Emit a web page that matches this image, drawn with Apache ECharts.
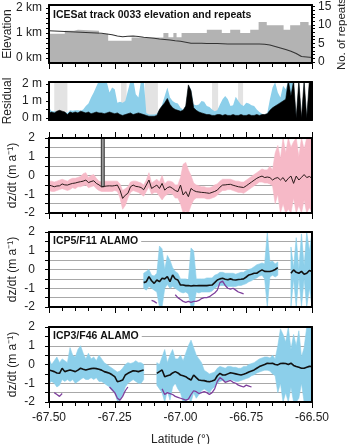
<!DOCTYPE html>
<html>
<head>
<meta charset="utf-8">
<script src="https://cdn.jsdelivr.net/npm/echarts@6/dist/echarts.min.js"></script>
<style>html,body{margin:0;background:#fff}#chart{width:350px;height:444px}</style>
</head>
<body>
<div id="chart"></div>
<script>
// latitude sampling of the profiles
const lat = [-67.50,-67.49,-67.48,-67.47,-67.46,-67.45,-67.44,-67.43,-67.42,-67.41,
  -67.40,-67.39,-67.38,-67.37,-67.36,-67.35,-67.34,-67.33,-67.32,-67.31,
  -67.30,-67.29,-67.28,-67.27,-67.26,-67.25,-67.24,-67.23,-67.22,-67.21,
  -67.20,-67.19,-67.18,-67.17,-67.16,-67.15,-67.14,-67.13,-67.12,-67.11,
  -67.10,-67.09,-67.08,-67.07,-67.06,-67.05,-67.04,-67.03,-67.02,-67.01,
  -67.00,-66.99,-66.98,-66.97,-66.96,-66.95,-66.94,-66.93,-66.92,-66.91,
  -66.90,-66.89,-66.88,-66.87,-66.86,-66.85,-66.84,-66.83,-66.82,-66.81,
  -66.80,-66.79,-66.78,-66.77,-66.76,-66.75,-66.74,-66.73,-66.72,-66.71,
  -66.70,-66.69,-66.68,-66.67,-66.66,-66.65,-66.64,-66.63,-66.62,-66.61,
  -66.60,-66.59,-66.58,-66.57,-66.56,-66.55,-66.54,-66.53,-66.52,-66.51,-66.50];

// panel 1: elevation (km) and number of repeats
const elevLat = [-67.50,-67.48,-67.46,-67.44,-67.42,-67.40,-67.38,-67.36,-67.34,-67.32,
  -67.30,-67.28,-67.26,-67.24,-67.22,-67.20,-67.18,-67.16,-67.14,-67.12,
  -67.10,-67.08,-67.06,-67.04,-67.02,-67.00,-66.98,-66.96,-66.94,-66.92,
  -66.90,-66.88,-66.86,-66.84,-66.82,-66.80,-66.78,-66.76,-66.74,-66.72,
  -66.70,-66.68,-66.66,-66.64,-66.62,-66.60,-66.58,-66.56,-66.54,-66.52,-66.50];
const elevKm = [1.09,1.08,1.07,1.06,1.05,1.04,1.03,1.02,1.01,1.00,
  0.99,0.96,0.93,0.88,0.85,0.87,0.88,0.86,0.83,0.81,
  0.79,0.76,0.74,0.72,0.69,0.67,0.63,0.59,0.59,0.59,
  0.58,0.58,0.58,0.57,0.56,0.56,0.56,0.56,0.56,0.56,
  0.56,0.55,0.52,0.46,0.40,0.34,0.27,0.18,0.06,0.04,0.02];
const repLat = [-67.50,-67.44,-67.405,-67.39,-67.31,-67.275,-67.186,-67.065,-67.046,-67.027,-67.015,-66.996,
  -66.90,-66.843,-66.811,-66.773,-66.735,-66.703,-66.672,-66.608,-66.583,-66.545,-66.513,-66.50];
const repCount = [7.6,8.4,8.7,8.4,7.6,5.7,6.6,7.8,6.7,7.8,6.7,7.8,
  8.7,7.8,8.7,7.8,8.7,10.8,9.9,8.7,9.9,10.8,9.9,9.9];

// panel 2: residuals (m)
const residBlue = [0.6,0.4,0.4,0.35,0.35,0.35,0.35,0.3,0.45,0.42,
  0.45,0.45,0.42,0.5,0.7,0.85,1.2,1.5,1.85,2.2,
  2.3,2.3,2.1,1.5,1.8,1.7,0.9,0.95,0.9,1.0,
  1.6,2.2,2.3,1.4,1.2,2.2,2.3,0.3,0.2,0.2,
  0.2,0.25,0.5,0.8,1.3,1.8,1.2,1.0,0.9,0.85,
  0.6,0.5,0.75,1.95,1.7,0.8,0.75,0.8,1.0,0.95,
  0.7,0.65,0.5,0.4,0.45,0.8,1.1,1.3,1.1,0.7,
  0.75,1.25,1.0,0.8,0.7,0.9,0.85,0.75,0.7,0.5,
  0.35,0.25,0.2,0.3,1.1,1.8,2.1,1.5,1.2,1.9,
  1.7,2.2,2.2,2.2,0,2.2,0,2.2,0,2.2,2.2];
const residBlack = [0.3,0.35,0.3,0.4,0.45,0.4,0.35,0.2,0.35,0.3,
  0.35,0.3,0.4,0.35,0.3,0.35,0.25,0.3,0.35,0.3,
  0.3,0.25,0.3,0.35,0.3,0.25,0.3,0.2,0.15,0.2,
  0.25,0.3,0.2,0.25,0.3,0.25,0.2,0.15,0.1,0.1,
  0.1,0.15,0.5,0.7,0.9,1.15,0.8,0.6,0.5,0.45,
  0.4,0.45,0.7,1.95,1.6,0.6,0.45,0.35,0.3,0.25,
  0.2,0.2,0.15,0.15,0.2,0.2,0.15,0.2,0.15,0.15,
  0.2,0.15,0.15,0.2,0.15,0.15,0.2,0.15,0.15,0.2,
  0.15,0.2,0.2,0.25,0.45,0.6,0.7,0.8,0.9,1.0,
  1.1,2.2,1.3,2.2,0,2.2,0,2.2,0,2.2,2.2];
const greyStart = [-67.48,-67.226,-67.135,-66.88,-66.781];
const greyEnd = [-67.43,-67.205,-67.086,-66.857,-66.762];

// panel 3: dz/dt (m/a)
const dzLine = [-0.51,-0.55,-0.6,-0.56,-0.55,-0.45,-0.5,-0.51,-0.46,-0.42,
  -0.4,-0.36,-0.33,-0.3,-0.24,-0.38,-0.32,-0.28,-0.42,-0.5,
  -0.6,-0.58,-0.56,-0.55,-0.56,-0.54,-0.51,-0.78,-1.22,-1.05,
  -0.95,-0.6,-0.51,-0.58,-0.6,-0.64,-0.76,-0.51,-0.24,-0.69,
  -0.6,-0.51,-0.69,-0.42,-0.78,-0.65,-0.6,-0.69,-0.8,-0.86,
  -0.51,-1.04,-0.86,-1.13,-0.69,-0.8,-0.86,-0.88,-0.9,-0.91,
  -0.93,-0.95,-0.9,-0.85,-0.78,-0.62,-0.51,-0.5,-0.48,-0.47,
  -0.52,-0.56,-0.6,-0.62,-0.64,-0.55,-0.45,-0.35,-0.25,-0.15,
  -0.08,-0.03,-0.11,-0.08,-0.11,-0.24,-0.15,-0.11,-0.24,-0.11,
  -0.33,-0.15,-0.03,-0.42,-0.03,-0.24,-0.1,0.05,-0.11,-0.05,-0.15];
const dzLow = [-0.8,-0.85,-0.85,-0.8,-0.75,-0.7,-0.75,-0.8,-0.75,-0.65,
  -0.7,-0.6,-0.6,-0.55,-0.5,-0.65,-0.6,-0.55,-0.7,-0.8,
  -0.85,-0.85,-0.85,-0.85,-0.85,-0.8,-0.85,-1.2,-1.8,-1.6,
  -1.2,-0.9,-0.8,-0.85,-0.9,-1.0,-1.1,-0.85,-0.6,-1.0,
  -0.9,-0.9,-1.1,-1.3,-1.1,-1.0,-0.95,-1.0,-1.2,-1.2,
  -1.5,-2.0,-1.9,-2.0,-1.6,-1.3,-1.2,-1.2,-1.2,-1.2,
  -1.25,-1.25,-1.2,-1.15,-1.05,-0.9,-0.8,-0.8,-0.75,-0.75,
  -0.8,-0.85,-0.9,-0.9,-0.95,-0.85,-0.75,-0.65,-0.55,-0.45,
  -0.35,-0.35,-0.4,-0.4,-0.45,-0.55,-1.5,-1.0,-2.0,-1.5,
  -2.0,-1.8,-2.0,-1.2,-2.0,-1.6,-2.0,-1.3,-2.0,-1.7,-2.0];
const dzHigh = [-0.3,-0.3,-0.35,-0.3,-0.25,-0.2,-0.25,-0.3,-0.2,-0.15,
  -0.15,-0.1,-0.05,0.1,0.15,-0.1,0.0,0.05,-0.15,-0.3,
  -0.35,-0.3,-0.3,-0.3,-0.3,-0.3,-0.3,-0.45,-0.8,-0.7,
  -0.6,-0.35,-0.3,-0.3,-0.35,-0.4,-0.5,-0.25,0.15,-0.4,
  -0.3,-0.2,-0.35,0.0,-0.45,-0.3,-0.3,-0.35,-0.5,-0.5,
  -0.1,0.6,0.7,0.3,0.0,-0.4,-0.5,-0.55,-0.6,-0.6,
  -0.65,-0.65,-0.6,-0.5,-0.45,-0.3,-0.2,-0.2,-0.2,-0.2,
  -0.25,-0.3,-0.3,-0.35,-0.35,-0.25,-0.15,-0.05,0.05,0.15,
  0.25,0.35,0.3,0.3,0.5,0.3,1.2,1.6,0.9,2.0,
  1.2,2.0,1.5,1.8,2.0,1.0,2.0,1.4,2.0,2.0,2.0];
const dzSpikeLat = [-67.301, -67.290];
const dzSpikeVal = [-0.6, 2.0];

// panel 4: ICP5/F11 ALAMO
const icp5Line = [null,null,null,null,null,null,null,null,null,null,
  null,null,null,null,null,null,null,null,null,null,
  null,null,null,null,null,null,null,null,null,null,
  null,null,null,null,null,null,-0.7,-0.65,-0.38,-0.6,
  -0.74,-0.56,-0.65,-0.47,-0.5,-0.38,-0.65,-0.29,-0.5,-0.56,
  -0.83,-0.83,-0.86,-0.85,-0.88,-0.86,-0.87,-0.86,-0.85,-0.86,
  -0.86,-0.84,-0.83,-0.7,-0.56,-0.5,-0.47,-0.52,-0.55,-0.5,
  -0.55,-0.56,-0.53,-0.52,-0.5,-0.4,-0.29,-0.25,-0.2,-0.2,
  -0.1,-0.02,-0.1,-0.11,-0.11,-0.07,0.0,0.1,null,null,
  null,null,-0.2,-0.02,-0.15,-0.2,-0.1,-0.25,-0.2,-0.05,-0.11];
const icp5Low = [null,null,null,null,null,null,null,null,null,null,
  null,null,null,null,null,null,null,null,null,null,
  null,null,null,null,null,null,null,null,null,null,
  null,null,null,null,null,null,-1.0,-1.1,-0.9,-1.0,
  -1.1,-1.2,-2.0,-2.0,-1.0,-0.8,-1.0,-0.9,-1.0,-1.1,
  -1.2,-1.25,-1.2,-1.3,-2.0,-2.0,-1.2,-1.25,-1.2,-1.2,
  -1.2,-1.2,-1.15,-1.0,-0.9,-0.85,-0.85,-0.85,-0.9,-0.9,
  -0.9,-0.9,-0.85,-0.85,-0.8,-0.75,-0.65,-0.6,-0.5,-0.45,
  -0.35,-0.3,-0.5,-2.0,-0.4,-0.3,-0.4,-0.3,null,null,
  null,null,-2.0,-0.5,-2.0,-0.4,-2.0,-0.5,-2.0,-1.0,-2.0];
const icp5High = [null,null,null,null,null,null,null,null,null,null,
  null,null,null,null,null,null,null,null,null,null,
  null,null,null,null,null,null,null,null,null,null,
  null,null,null,null,null,null,-0.2,-0.1,0.0,-0.3,
  -0.35,-0.2,1.25,1.1,0.0,0.75,0.5,0.1,-0.1,-0.2,
  -0.5,-0.5,-0.5,-0.55,1.15,1.0,-0.5,-0.5,-0.5,-0.5,
  -0.45,-0.45,-0.45,-0.3,-0.25,-0.15,-0.15,-0.2,-0.2,-0.2,
  -0.2,-0.25,-0.2,-0.15,-0.15,-0.05,0.0,0.05,0.15,0.25,
  0.3,0.35,0.3,2.0,0.4,0.45,0.3,0.4,null,null,
  null,null,1.2,0.1,1.7,0.0,1.9,0.2,2.0,1.0,2.0];
const icp5Alamo = [null,null,null,null,null,null,null,null,null,null,
  null,null,null,null,null,null,null,null,null,null,
  null,null,null,null,null,null,null,null,null,null,
  null,null,null,null,null,null,null,null,null,-1.65,
  -1.7,-1.8,null,null,null,null,null,null,-1.35,-1.5,
  -1.6,-1.7,-1.75,-1.7,-1.75,-1.7,-1.7,-1.65,-1.55,-1.5,
  -1.5,-1.45,-1.35,-1.25,-1.1,-0.7,-0.62,-0.85,-1.0,-1.05,
  -1.0,-1.1,-1.2,-1.25,-1.3,null,null,null,null,null,
  null,null,null,null,null,null,null,null,null,null,
  null,null,null,null,null,null,null,null,null,null,null];

// panel 5: ICP3/F46 ALAMO
const icp3Line = [-0.29,-0.33,-0.38,-0.45,-0.47,-0.2,-0.38,-0.33,-0.29,-0.33,
  -0.38,-0.3,-0.2,-0.25,-0.29,-0.25,-0.22,-0.2,-0.22,-0.25,
  -0.3,-0.38,-0.42,-0.47,-0.55,-0.65,-0.92,-0.88,-0.83,-0.56,
  -0.47,-0.4,-0.33,-0.35,-0.38,-0.33,-0.29,null,null,null,
  null,-0.47,-0.38,-0.29,-0.65,-0.6,-0.56,-0.45,-0.38,-0.45,
  -0.56,-0.6,-0.65,-0.75,-0.83,-0.56,-0.7,-0.83,-0.85,-0.86,
  -0.9,-0.92,-0.88,-0.83,-0.6,-0.47,-0.56,-0.56,-0.5,-0.44,
  -0.47,-0.5,-0.53,-0.56,-0.52,-0.47,-0.4,-0.35,-0.29,-0.2,
  -0.11,-0.05,0.0,0.07,0.05,0.07,0.0,-0.02,0.05,0.07,
  0.05,0.0,0.07,-0.05,-0.11,-0.15,-0.2,-0.2,-0.15,-0.1,-0.11];
const icp3Low = [-1.0,-0.9,-1.0,-1.2,-1.1,-0.8,-0.9,-0.8,-0.9,-0.8,
  -1.0,-0.9,-0.8,-0.7,-0.8,-0.8,-0.7,-0.8,-0.7,-0.9,
  -0.9,-1.0,-1.1,-1.2,-1.4,-1.5,-1.95,-1.9,-1.6,-1.2,
  -1.0,-0.9,-0.8,-0.9,-1.0,-1.0,-0.8,null,null,null,
  null,-1.1,-1.3,-1.5,-2.0,-1.4,-1.9,-1.2,-1.0,-1.3,
  -1.5,-2.0,-2.0,-1.8,-2.0,-1.5,-1.8,-1.6,-1.4,-1.3,
  -1.4,-1.5,-1.3,-1.2,-1.0,-0.9,-0.85,-0.9,-0.85,-0.8,
  -0.85,-0.9,-0.9,-0.85,-0.8,-0.75,-0.7,-0.6,-0.55,-0.45,
  -0.4,-0.35,-0.3,-0.3,-0.35,-0.5,-0.6,-1.5,-1.0,-2.0,
  -1.5,-2.0,-1.2,-2.0,-2.0,-1.8,-1.0,-2.0,-2.0,-2.0,-2.0];
const icp3High = [0.3,0.0,0.2,0.4,0.1,0.3,0.2,0.1,0.9,0.5,
  0.4,0.8,1.0,0.6,0.3,0.6,0.3,0.4,0.2,0.5,
  0.3,0.1,0.0,-0.1,-0.2,-0.3,-0.4,-0.35,-0.2,0.0,
  0.1,0.05,0.1,0.2,0.1,0.1,0.0,null,null,null,
  null,0.1,0.0,0.4,0.8,0.1,0.5,0.8,0.3,0.3,
  0.5,0.2,0.6,1.0,1.3,0.9,0.5,0.3,0.1,-0.3,
  -0.4,-0.5,-0.45,-0.4,-0.2,-0.1,-0.15,-0.2,-0.1,-0.1,
  -0.15,-0.15,-0.2,-0.2,-0.1,-0.1,0.0,0.05,0.1,0.2,
  0.3,0.35,0.4,0.4,0.35,0.5,0.3,1.0,1.9,1.6,
  1.2,2.0,0.8,1.6,1.0,1.8,0.4,0.9,2.0,2.0,2.0];
const icp3Alamo = [null,null,-1.5,-1.6,-1.7,-1.55,null,null,null,null,
  null,null,null,null,null,null,null,null,null,null,
  null,null,null,-1.2,-1.35,-1.5,-1.8,-1.9,-1.7,-1.4,
  -1.2,null,null,null,null,null,null,null,null,null,
  null,null,null,-1.3,-1.6,-1.5,-1.55,-1.6,-1.7,-1.75,
  -1.8,-1.85,-1.9,-1.85,-1.6,-1.4,-1.45,-1.55,-1.5,-1.45,
  -1.5,-1.6,-1.5,-1.3,-0.9,-0.7,-0.8,-0.95,-0.9,-0.85,
  -0.95,-1.0,-1.1,-1.15,-1.2,-1.1,-1.15,-1.2,null,null,
  null,null,null,null,null,null,null,null,null,null,
  null,null,null,null,null,null,null,null,null,null,null];

const FONT = "'Liberation Sans', Arial, sans-serif";
const X_MIN = -67.5, X_MAX = -66.5;
const BLUE = '#8ccfea', PINK = '#f6b9c7', PURPLE = '#7e3f9c';

const grids = [
    {left: 49, top: 5, width: 263, height: 58},
    {left: 49, top: 82, width: 263, height: 38},
    {left: 49, top: 138, width: 263, height: 75},
    {left: 49, top: 232, width: 263, height: 75},
    {left: 49, top: 327, width: 263, height: 75}
].map(g => Object.assign(g, {outerBoundsMode: 'none', containLabel: false}));

function pairs(xs, ys) {
    return xs.map((x, i) => [x, ys[i]]);
}

// runs of indices where both band edges exist
function runs(lo, hi) {
    let out = [], s = -1;
    for (let i = 0; i <= lo.length; i++) {
        let ok = i < lo.length && lo[i] != null && hi[i] != null;
        if (ok && s < 0) s = i;
        if (!ok && s >= 0) { out.push([lat[s], lat[i - 1], s, i - 1]); s = -1; }
    }
    return out;
}

const frameLine = {show: true, onZero: false, lineStyle: {color: '#000', width: 2}};
const ticks = {
    axisTick: {show: true, length: 6, lineStyle: {color: '#000'}},
    minorTick: {show: true, splitNumber: 5, length: 4, lineStyle: {color: '#000'}}
};
const txt = {fontSize: 12, color: '#222', fontFamily: FONT};

function xAx(grid, pos, extra) {
    return Object.assign({
        type: 'value', gridIndex: grid, position: pos, min: X_MIN, max: X_MAX, interval: 0.25, z: 10,
        axisLine: frameLine, axisTick: {show: false}, axisLabel: {show: false}, splitLine: {show: false}
    }, extra || {});
}
function yAx(grid, pos, min, max, extra) {
    return Object.assign({
        type: 'value', gridIndex: grid, position: pos, min: min, max: max, z: 10, nameMoveOverlap: false,
        axisLine: frameLine, axisTick: {show: false}, axisLabel: {show: false}, splitLine: {show: false}
    }, extra || {});
}
function dzAxes(grid) {
    return [
        yAx(grid, 'left', -2, 2, {
            interval: 0.5,
            axisTick: {show: true, length: 4, lineStyle: {color: '#000'}},
            axisLabel: Object.assign({show: true, margin: 14, formatter: v => Number.isInteger(v) ? String(v) : ''}, txt),
            name: 'dz/dt (m a⁻¹)', nameLocation: 'middle', nameRotate: 90, nameGap: 30, nameTextStyle: txt
        }),
        yAx(grid, 'right', -2, 2),
        // grey grid lines, kept under the data
        yAx(grid, 'left', -2, 2, {
            interval: 0.5, z: 0, axisLine: {show: false},
            splitLine: {show: true, lineStyle: {color: '#a8a8a8', width: 1}}
        })
    ];
}

const xAxes = [
    xAx(0, 'bottom', ticks), xAx(0, 'top'),
    xAx(1, 'bottom'), xAx(1, 'top'),
    xAx(2, 'bottom', ticks), xAx(2, 'top', ticks),
    xAx(3, 'bottom', ticks), xAx(3, 'top'),
    xAx(4, 'bottom', Object.assign({}, ticks, {
        axisLabel: Object.assign({show: true, margin: 10, formatter: v => v.toFixed(2)}, txt),
        name: 'Latitude (°)', nameLocation: 'middle', nameGap: 32, nameTextStyle: txt
    })),
    xAx(4, 'top')
];

const yAxes = [
    yAx(0, 'left', -0.2, 2.12, {
        axisTick: {show: true, length: 3, customValues: [0, 0.2, 0.4, 0.6, 0.8, 1, 1.2, 1.4, 1.6, 1.8, 2], lineStyle: {color: '#000'}},
        axisLabel: Object.assign({show: true, margin: 7, customValues: [0, 1, 2], formatter: v => v + ' km'}, txt),
        name: 'Elevation', nameLocation: 'middle', nameRotate: 90, nameGap: 35, nameTextStyle: txt
    }),
    yAx(0, 'right', -0.3, 15.4, {
        axisTick: {show: true, length: 3, customValues: [0, 1, 2, 3, 4, 5, 6, 7, 8, 9, 10, 11, 12, 13, 14, 15], lineStyle: {color: '#000'}},
        axisLabel: Object.assign({show: true, margin: 6, customValues: [0, 5, 10, 15]}, txt),
        name: 'No. of repeats', nameLocation: 'middle', nameRotate: 90, nameGap: 24,
        nameTextStyle: Object.assign({}, txt, {fontSize: 11.5})
    }),
    yAx(1, 'left', -0.12, 2.12, {
        axisTick: {show: true, length: 3, customValues: [0, 0.5, 1, 1.5, 2], lineStyle: {color: '#000'}},
        axisLabel: Object.assign({show: true, margin: 7, customValues: [0, 1, 2], formatter: v => v + ' m'}, txt),
        name: 'Residual', nameLocation: 'middle', nameRotate: 90, nameGap: 35, nameTextStyle: txt
    }),
    yAx(1, 'right', -0.12, 2.12)
].concat(dzAxes(2), dzAxes(3), dzAxes(4));
// y indices: grid2 -> 4, grid3 -> 7, grid4 -> 10

function rectItem(params, api) {
    const a = api.coord([api.value(0), api.value(3)]);
    const b = api.coord([api.value(1), api.value(2)]);
    return {type: 'rect', shape: {x: a[0], y: a[1], width: b[0] - a[0], height: b[1] - a[1]}, style: api.style()};
}

// filled envelope between lo and hi, drawn through the axes
function band(xi, yi, lo, hi, color) {
    return {
        type: 'custom', xAxisIndex: xi, yAxisIndex: yi, data: runs(lo, hi), encode: {x: [0, 1]}, clip: true, silent: true, z: 2,
        renderItem: (params, api) => {
            const s = api.value(2), e = api.value(3), pts = [];
            for (let k = s; k <= e; k++) pts.push(api.coord([lat[k], hi[k]]));
            for (let k = e; k >= s; k--) pts.push(api.coord([lat[k], lo[k]]));
            return {type: 'polygon', shape: {points: pts}, style: {fill: color, stroke: color, lineWidth: 0.6}};
        }
    };
}
function line(xi, yi, ys, color, width) {
    return {type: 'line', xAxisIndex: xi, yAxisIndex: yi, data: pairs(lat, ys), symbol: 'none',
        lineStyle: {color: color, width: width}, z: 4, silent: true};
}

const series = [
    // panel 1
    {type: 'line', xAxisIndex: 0, yAxisIndex: 1, step: 'end', data: pairs(repLat, repCount), symbol: 'none',
        lineStyle: {width: 0}, areaStyle: {color: '#b3b3b3', opacity: 1, origin: 'start'}},
    {type: 'line', xAxisIndex: 0, yAxisIndex: 0, data: pairs(elevLat, elevKm), symbol: 'none',
        lineStyle: {color: '#333', width: 1.2}, z: 4},
    // panel 2
    {type: 'custom', xAxisIndex: 2, yAxisIndex: 2, renderItem: rectItem, encode: {x: [0, 1], y: [2, 3]},
        data: greyStart.map((s, i) => [s, greyEnd[i], -0.12, 2.12]), itemStyle: {color: '#e3e3e3'}, z: 1},
    {type: 'line', xAxisIndex: 2, yAxisIndex: 2, data: pairs(lat, residBlue), symbol: 'none',
        lineStyle: {width: 0}, areaStyle: {color: BLUE, opacity: 1, origin: 'start'}},
    {type: 'line', xAxisIndex: 2, yAxisIndex: 2, data: pairs(lat, residBlack), symbol: 'none',
        lineStyle: {color: '#000', width: 0.6}, areaStyle: {color: '#000', opacity: 1, origin: 'start'}, z: 3},
    // panel 3
    band(4, 4, dzLow, dzHigh, PINK),
    {type: 'custom', xAxisIndex: 4, yAxisIndex: 4, renderItem: rectItem, encode: {x: [0, 1], y: [2, 3]},
        data: [[dzSpikeLat[0], dzSpikeLat[1], dzSpikeVal[0], dzSpikeVal[1]]],
        itemStyle: {color: '#9a9a9a', borderColor: '#333', borderWidth: 1}, z: 3},
    line(4, 4, dzLine, '#2a1a1a', 1),
    // panel 4
    band(6, 7, icp5Low, icp5High, BLUE),
    line(6, 7, icp5Alamo, PURPLE, 1.3),
    line(6, 7, icp5Line, '#111', 1.6),
    // panel 5
    band(8, 10, icp3Low, icp3High, BLUE),
    line(8, 10, icp3Alamo, PURPLE, 1.3),
    line(8, 10, icp3Line, '#111', 1.6)
];

function label(text, top) {
    return {text: text, left: 50, top: top, padding: [2, 3, 2, 3], backgroundColor: '#fff', z: 12,
        textStyle: {fontSize: 10.5, fontWeight: 'bold', color: '#111', fontFamily: FONT}};
}

const chart = echarts.init(document.getElementById('chart'), null, {renderer: 'canvas'});
chart.setOption({
    animation: false,
    backgroundColor: '#fff',
    title: [label('ICESat track 0033 elevation and repeats', 8), label('ICP5/F11 ALAMO', 234), label('ICP3/F46 ALAMO', 329)],
    grid: grids,
    xAxis: xAxes,
    yAxis: yAxes,
    series: series
});
</script>
</body>
</html>
